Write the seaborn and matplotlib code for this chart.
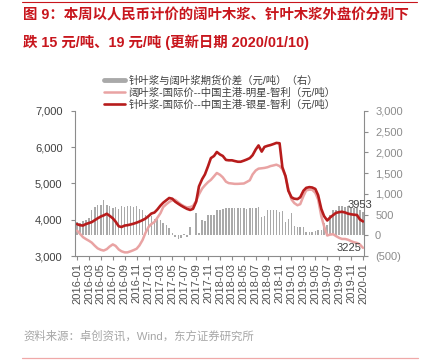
import pandas as pd
import matplotlib
matplotlib.use('Agg')
import matplotlib.pyplot as plt
from matplotlib.lines import Line2D
import seaborn as sns

# semi-monthly observations, 2016-01 .. 2020-01
dates = pd.date_range('2016-01-01', '2020-01-01', freq='SMS')

# 针叶浆 (银星-智利), 元/吨
softwood = [3880, 3850, 3840, 3880, 3910, 3935, 3990, 4040, 4090, 4120,
            4165, 4110, 4040, 3950, 3820, 3800, 3840, 3850, 3870, 3890,
            3920, 3950, 3990, 4030, 4100, 4170, 4200, 4280, 4390, 4470,
            4540, 4600, 4580, 4500, 4440, 4390, 4340, 4300, 4270, 4300,
            4500, 4920, 5120, 5250, 5480, 5700, 5760, 5870, 5800, 5760,
            5650, 5640, 5640, 5620, 5600, 5600, 5630, 5660, 5700, 5780,
            5940, 6050, 5880, 6010, 6040, 6060, 6090, 6120, 6110, 5450,
            5200, 4800, 4620, 4580, 4570, 4620, 4800, 4880, 4900, 4890,
            4850, 4680, 4300, 4100, 3980, 4060, 4130, 4190, 4210, 4220,
            4200, 4170, 4150, 4140, 4130, 4010, 3953]

# 阔叶浆 (明星-智利), 元/吨
hardwood = [3700, 3620, 3520, 3470, 3420, 3370, 3280, 3210, 3170, 3150,
            3190, 3260, 3320, 3280, 3180, 3130, 3100, 3100, 3130, 3160,
            3200, 3290, 3440, 3630, 3800, 3880, 3940, 4050, 4180, 4350,
            4430, 4490, 4540, 4550, 4480, 4420, 4370, 4340, 4350, 4380,
            4520, 4700, 4860, 4950, 5040, 5100, 5200, 5290, 5240, 5170,
            5050, 5010, 5000, 4990, 4990, 4995, 5000, 5040, 5090, 5250,
            5360, 5410, 5420, 5430, 5450, 5480, 5500, 5520, 5480, 5400,
            5200, 4850, 4560, 4460, 4400, 4430, 4650, 4810, 4830, 4830,
            4740, 4560, 4100, 3820, 3565, 3590, 3600, 3550, 3500, 3470,
            3470, 3450, 3410, 3380, 3360, 3320, 3225]

# 针叶浆与阔叶浆期货价差 (右轴), 元/吨
spread = [330, 300, 350, 380, 420, 600, 690, 720, 730, 850,
          720, 700, 660, 690, 640, 700, 690, 710, 700, 680,
          700, 640, 600, 500, 480, 470, 400, 410, 370, 300,
          250, 180, 60, -40, -80, -60, 20, -30, 200, 0,
          540, 50, 380, 350, 490, 480, 500, 620, 600, 640,
          660, 650, 650, 660, 650, 660, 650, 640, 650, 660,
          650, 690, 450, 470, 610, 610, 600, 620, 560, 580,
          330, 400, 540, 220, 210, 200, 210, 90, 80, 90,
          100, 130, 130, 300, 250, 480, 600, 610, 700, 710,
          690, 700, 650, 650, 660, 600, 570]

labels = ['针叶浆与阔叶浆期货价差（元/吨）（右）',
          '阔叶浆-国际价--中国主港-明星-智利（元/吨）',
          '针叶浆-国际价--中国主港-银星-智利（元/吨）']

df = pd.DataFrame({'date': dates, 'softwood': softwood,
                   'hardwood': hardwood, 'spread': spread})
# months since 2016-01 as numeric x
df['m'] = (df['date'].dt.year - 2016) * 12 + df['date'].dt.month - 1 + (df['date'].dt.day - 1) / 30.0

sns.set_style('ticks')
plt.rcParams['font.family'] = ['Liberation Sans', 'Noto Sans CJK SC', 'DejaVu Sans']

dark_red = '#b71c1c'
pink = '#e9a3a3'
bar_gray = '#a9a9a9'
txt_gray = '#404040'
axis_gray = '#8c8c8c'

fig = plt.figure(figsize=(4.22, 3.61), dpi=100)
ax = fig.add_axes([75 / 422, 1 - 256 / 361, 289 / 422, 145 / 361])
ax2 = ax.twinx()

sns.barplot(data=df, x='m', y='spread', ax=ax2, native_scale=True, width=0.55,
            color=bar_gray, saturation=1, errorbar=None, linewidth=0)
sns.lineplot(data=df, x='m', y='hardwood', ax=ax, color=pink, lw=1.8)
sns.lineplot(data=df, x='m', y='softwood', ax=ax, color=dark_red, lw=1.9)

ax.set_zorder(ax2.get_zorder() + 1)
ax.patch.set_visible(False)

ax.set_ylim(3000, 7000)
ax2.set_ylim(-500, 3000)
ax.set_xlim(-0.34, 48.17)

ax.set_yticks(range(3000, 7001, 1000))
ax.set_yticklabels([f'{v:,}' for v in range(3000, 7001, 1000)])
rticks = list(range(-500, 3001, 500))
ax2.set_yticks(rticks)
ax2.set_yticklabels([f'{v:,}' if v >= 0 else f'({abs(v):,})' for v in rticks])
for t, v in zip(ax2.get_yticklabels(), rticks):
    t.set_color('#e05a5a' if v < 0 else txt_gray)

xt = list(range(0, 49, 2))
ax.set_xticks(xt)
ax.set_xticklabels([f'{2016 + t // 12}-{t % 12 + 1:02d}' for t in xt], rotation=90)

for a in (ax, ax2):
    a.set_xlabel('')
    a.set_ylabel('')
    a.spines['top'].set_visible(False)
    for s in a.spines.values():
        s.set_color(axis_gray)
        s.set_linewidth(0.8)
ax.spines['right'].set_visible(False)
ax2.spines['left'].set_visible(False)
ax2.spines['bottom'].set_visible(False)

ax.tick_params(axis='y', labelsize=8, colors=axis_gray, labelcolor=txt_gray, length=3, width=0.8, pad=6)
ax.tick_params(axis='x', labelsize=8, colors=axis_gray, labelcolor='#505050', length=3, width=0.8, pad=2)
ax2.tick_params(axis='y', labelsize=8, colors=axis_gray, length=3, width=0.8, pad=5)
ax2.tick_params(axis='x', bottom=False, labelbottom=False)

# end value labels
ax.annotate(f'{softwood[-1]}', xy=(df['m'].iloc[-1], softwood[-1]), xytext=(-2, 8),
            textcoords='offset points', ha='center', va='bottom', fontsize=8, color=txt_gray)
ax.annotate(f'{hardwood[-1]}', xy=(df['m'].iloc[-1], hardwood[-1]), xytext=(-1, 0),
            textcoords='offset points', ha='right', va='center', fontsize=8, color=txt_gray)

handles = [Line2D([], [], color=bar_gray, lw=3.5),
           Line2D([], [], color=pink, lw=1.8),
           Line2D([], [], color=dark_red, lw=1.9)]
fig.legend(handles, labels, loc='upper left', bbox_to_anchor=(104 / 422, 1 - 75 / 361),
           frameon=False, fontsize=7.5, handlelength=2.0, handletextpad=0.35,
           labelspacing=0.18, borderpad=0, borderaxespad=0, labelcolor=txt_gray)

# title, source and rules
fig.text(23 / 422, 1 - 15 / 361, '图 9：本周以人民币计价的阔叶木浆、针叶木浆外盘价分别下',
         fontsize=10.4, color='#c8161d', weight='bold', va='center', ha='left')
fig.text(23 / 422, 1 - 42 / 361, '跌 15 元/吨、19 元/吨 (更新日期 2020/01/10)',
         fontsize=10.4, color='#c8161d', weight='bold', va='center', ha='left')
fig.text(23 / 422, 1 - 336 / 361, '资料来源：卓创资讯，Wind，东方证券研究所',
         fontsize=8.2, color='#a6a6a6', va='center', ha='left')
fig.add_artist(Line2D([22 / 422, 417 / 422], [1 - 1.5 / 361] * 2, color='#c8161d', lw=0.8))
fig.add_artist(Line2D([22 / 422, 418 / 422], [1 - 358 / 361] * 2, color='#f0a8a8', lw=0.9))

fig.savefig('out.png', dpi=100)
